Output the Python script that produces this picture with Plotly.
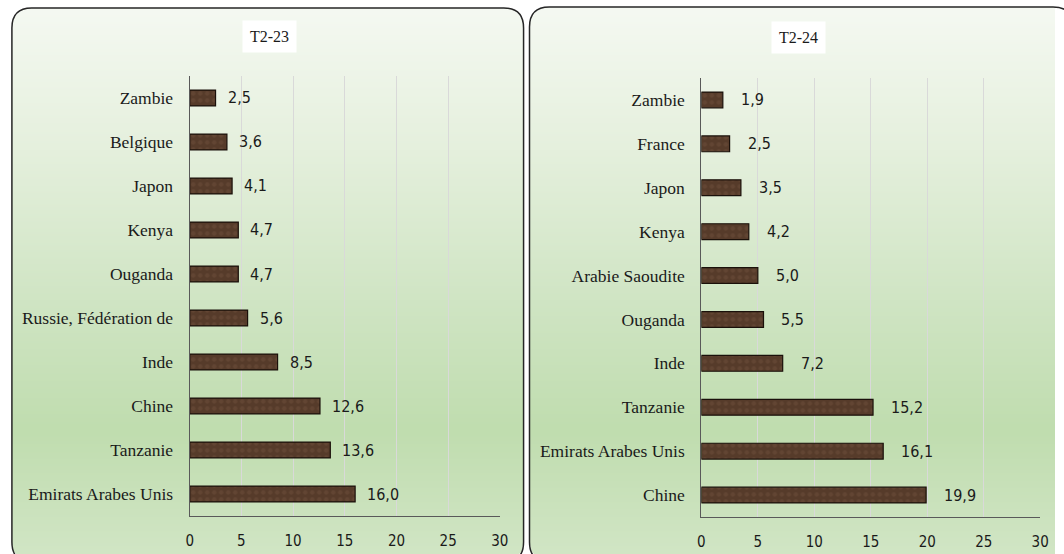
import base64
import struct
import zlib

import numpy as np
import plotly.graph_objects as go

# ---------------- data ----------------
countries_23 = ["Zambie", "Belgique", "Japon", "Kenya", "Ouganda",
                "Russie, Fédération de", "Inde", "Chine", "Tanzanie",
                "Emirats Arabes Unis"]
values_23 = [2.5, 3.6, 4.1, 4.7, 4.7, 5.6, 8.5, 12.6, 13.6, 16.0]

countries_24 = ["Zambie", "France", "Japon", "Kenya", "Arabie Saoudite",
                "Ouganda", "Inde", "Tanzanie", "Emirats Arabes Unis", "Chine"]
values_24 = [1.9, 2.5, 3.5, 4.2, 5.0, 5.5, 7.2, 15.2, 16.1, 19.9]

titles = ["T2-23", "T2-24"]
x_ticks = [0, 5, 10, 15, 20, 25, 30]

# ---------------- geometry / style ----------------
W, H = 1064, 554
panels = [(8, 8, 526, 562), (532, 7, 1082, 562)]  # pixel boxes of the rounded panels
RADIUS = 20

SERIF = "Liberation Serif, Times New Roman, serif"
NARROW = "DejaVu Sans Condensed"
BAR_COLOR = "#563b2a"


def px_x(x):
    return x / W


def px_y(y):
    return 1 - y / H


def png_data_uri(arr):
    h, w, _ = arr.shape
    raw = b"".join(b"\x00" + arr[r].tobytes() for r in range(h))

    def chunk(tag, data):
        c = struct.pack(">I", len(data)) + tag + data
        return c + struct.pack(">I", zlib.crc32(tag + data) & 0xFFFFFFFF)

    png = (b"\x89PNG\r\n\x1a\n"
           + chunk(b"IHDR", struct.pack(">IIBBBBB", w, h, 8, 6, 0, 0, 0))
           + chunk(b"IDAT", zlib.compress(raw, 9))
           + chunk(b"IEND", b""))
    return "data:image/png;base64," + base64.b64encode(png).decode()


# gradient background image for both panels
stops_y = np.array([8, 150, 300, 430, 560], dtype=float)
stops_c = np.array([[245, 249, 242], [229, 240, 221], [208, 229, 196],
                    [192, 221, 175], [210, 230, 198]], dtype=float)
img = np.zeros((H, W, 4), dtype=np.uint8)
yy, xx = np.mgrid[0:H, 0:W].astype(float)
yy += 0.5
xx += 0.5
col = np.stack([np.interp(yy[:, 0], stops_y, stops_c[:, k]) for k in range(3)], axis=1)
for (x0, y0, x1, y1) in panels:
    cx = np.clip(xx, x0 + RADIUS, x1 - RADIUS)
    cy = np.clip(yy, y0 + RADIUS, y1 - RADIUS)
    inside = ((xx - cx) ** 2 + (yy - cy) ** 2 <= RADIUS ** 2) & \
             (xx >= x0) & (xx <= x1) & (yy >= y0) & (yy <= y1)
    for k in range(3):
        ch = img[:, :, k]
        ch[inside] = np.repeat(col[:, k][:, None], W, axis=1)[inside].astype(np.uint8)
    img[:, :, 3][inside] = 255
bg_uri = png_data_uri(img)


def rounded_path(x0, y0, x1, y1, r):
    p = [
        (x0 + r, y0), (x1 - r, y0), (x1, y0), (x1, y0 + r),
        (x1, y1 - r), (x1, y1), (x1 - r, y1),
        (x0 + r, y1), (x0, y1), (x0, y1 - r),
        (x0, y0 + r), (x0, y0), (x0 + r, y0),
    ]
    f = lambda pt: f"{px_x(pt[0]):.5f},{px_y(pt[1]):.5f}"
    return (f"M{f(p[0])} L{f(p[1])} Q{f(p[2])} {f(p[3])} L{f(p[4])} "
            f"Q{f(p[5])} {f(p[6])} L{f(p[7])} Q{f(p[8])} {f(p[9])} "
            f"L{f(p[10])} Q{f(p[11])} {f(p[12])} Z")


fig = go.Figure()

datasets = [(countries_23, values_23), (countries_24, values_24)]
plot_boxes = [(188, 76, 502, 516), (706, 78, 1049, 517)]
label_shift = [10, 16]
title_pos = [(268.5, 36.5), (804, 37.5)]

annotations = []
for i, ((cats, vals), (bx0, by0, bx1, by1)) in enumerate(zip(datasets, plot_boxes)):
    xa = "x" if i == 0 else "x2"
    ya = "y" if i == 0 else "y2"
    fig.add_trace(go.Bar(
        x=vals, y=cats, orientation="h", xaxis=xa, yaxis=ya,
        width=0.36,
        marker=dict(color=BAR_COLOR, line=dict(color="#1a100a", width=1.2),
                    pattern=dict(shape=".", fgcolor="#6e4f3b", bgcolor=BAR_COLOR,
                                 size=7, solidity=0.3)),
        showlegend=False, hoverinfo="x+y",
    ))
    for c, v in zip(cats, vals):
        annotations.append(dict(
            x=v, y=c, xref=xa, yref=ya, text=f"{v:.1f}".replace(".", ","),
            showarrow=False, xanchor="left", yanchor="middle",
            xshift=label_shift[i],
            font=dict(family=NARROW, size=16, color="#1a1a1a"),
        ))
    tx, ty = title_pos[i]
    annotations.append(dict(
        x=px_x(tx), y=px_y(ty), xref="paper", yref="paper", text=titles[i],
        showarrow=False, xanchor="center", yanchor="middle",
        bgcolor="white", borderpad=7,
        font=dict(family=SERIF, size=16, color="#1a1a1a"),
    ))

    axis_suffix = "" if i == 0 else "2"
    fig.update_layout(**{
        f"xaxis{axis_suffix}": dict(
            domain=[px_x(bx0), px_x(bx1)], range=[0, 30],
            tickvals=x_ticks, ticktext=[str(t) for t in x_ticks],
            showgrid=True, gridcolor="#d9d9d9", gridwidth=1,
            zeroline=False, showline=True, linecolor="#595959", linewidth=1.2,
            ticks="", ticklabelstandoff=11,
            tickfont=dict(family=NARROW, size=15, color="#1a1a1a"),
            anchor=ya, fixedrange=True,
        ),
        f"yaxis{axis_suffix}": dict(
            domain=[px_y(by1), px_y(by0)],
            categoryorder="array", categoryarray=cats, autorange="reversed",
            showgrid=False, zeroline=False, showline=True,
            linecolor="#595959", linewidth=1.2, ticks="",
            ticklabelstandoff=12,
            tickfont=dict(family=SERIF, size=17.5, color="#1a1a1a"),
            anchor=xa, fixedrange=True,
        ),
    })

shapes = []
for (x0, y0, x1, y1) in panels:
    shapes.append(dict(type="path", xref="paper", yref="paper",
                       path=rounded_path(x0, y0, x1, y1, RADIUS),
                       line=dict(color="#262626", width=1.5), layer="above"))

fig.update_layout(
    width=W, height=H,
    margin=dict(l=0, r=0, t=0, b=0),
    paper_bgcolor="white", plot_bgcolor="white",
    annotations=annotations,
    shapes=shapes,
    images=[dict(source=bg_uri, xref="paper", yref="paper", x=0, y=1,
                 sizex=1, sizey=1, xanchor="left", yanchor="top",
                 sizing="stretch", layer="below")],
)

fig.write_html(
    "out.html",
    config={"displayModeBar": False},
    post_script="document.body.style.margin='0px';document.body.style.overflow='hidden';",
)
